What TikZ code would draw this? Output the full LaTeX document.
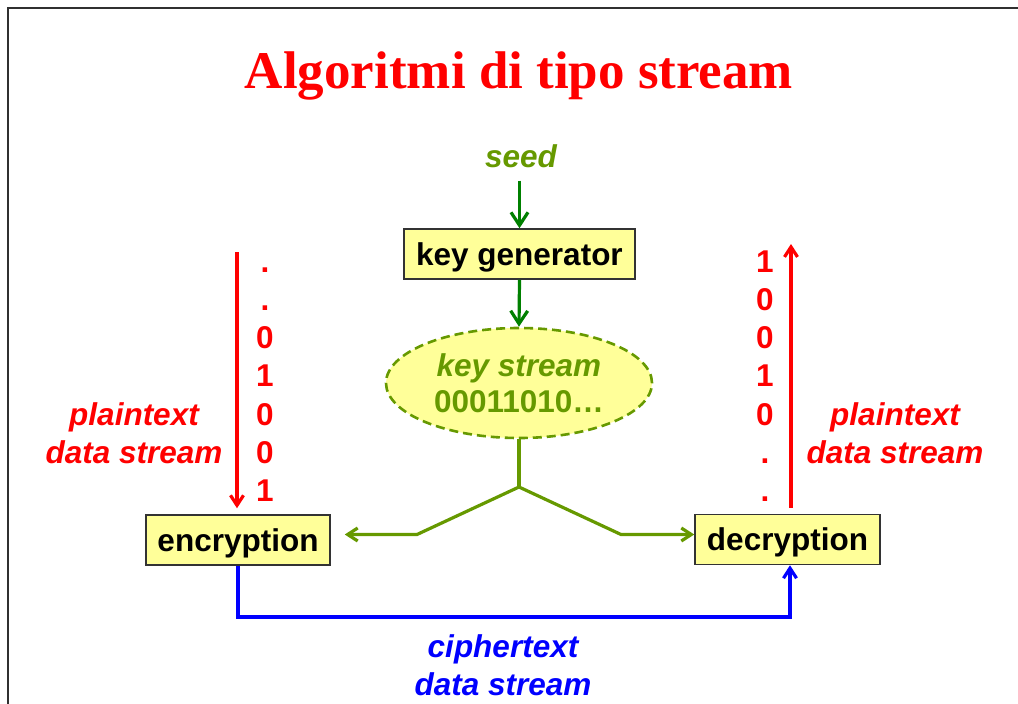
\documentclass[tikz,border=0pt]{standalone}
\usepackage{fontspec}
\setmainfont{Liberation Sans}
\newfontfamily\headfont{Liberation Serif}
\usetikzlibrary{arrows.meta,shapes.geometric}

\definecolor{streamred}{HTML}{FF0000}
\definecolor{keyolive}{HTML}{669900}
\definecolor{seedgreen}{HTML}{008000}
\definecolor{cipherblue}{HTML}{0000FF}
\definecolor{boxfill}{HTML}{FFFF99}
\definecolor{boxedge}{HTML}{333333}
\definecolor{framegray}{HTML}{303030}

\tikzset{
  lbl/.style={font=\bfseries\fontsize{31.5}{38.3}\selectfont, inner sep=0pt},
  ilbl/.style={font=\bfseries\itshape\fontsize{31.5}{38.3}\selectfont, inner sep=0pt, align=center},
  blockbox/.style={draw=boxedge, line width=1.5pt, fill=boxfill, inner sep=0pt,
    minimum height=50pt, text height=28pt, text depth=6pt,
    font=\bfseries\fontsize{31.5}{38}\selectfont},
  bit/.style={lbl, text=streamred, anchor=base},
  bigtip/.style={-{Straight Barb[length=13pt,width=17pt]}},
  smalltip/.style={-{Straight Barb[length=10pt,width=13pt]}},
  seedline/.style={draw=seedgreen, line width=3.2pt, bigtip},
  keyline/.style={draw=keyolive, line width=3.2pt, line join=miter},
  plainline/.style={draw=streamred, line width=3.2pt, smalltip},
  cipherline/.style={draw=cipherblue, line width=3.2pt, smalltip}
}

\begin{document}
\begin{tikzpicture}[x=1pt,y=-1pt]
  \useasboundingbox (0,0) rectangle (1018,704);

  % page frame
  \draw[framegray, line width=2pt] (8,704) -- (8,8) -- (1018,8);

  % heading
  \node[anchor=base, inner sep=0pt, text=streamred,
        font=\headfont\bfseries\fontsize{53}{60}\selectfont] (title) at (519,88)
        {Algoritmi di tipo stream};

  % key generation
  \node[ilbl, text=keyolive, anchor=base] (seed) at (521,167) {seed};
  \node[blockbox, minimum width=231pt] (keygen) at (519.5,254) {key generator};
  \node[ellipse, draw=keyolive, line width=2.6pt, dash pattern=on 9pt off 5pt,
        fill=boxfill, minimum width=266pt, minimum height=110pt, inner sep=0pt,
        text=keyolive, align=center,
        font=\bfseries\fontsize{31.5}{36}\selectfont] (kstream) at (519,383)
        {{\itshape key stream}\\00011010…};

  % encryption and decryption blocks
  \node[blockbox, minimum width=184pt] (enc) at (238,540) {encryption};
  \node[blockbox, minimum width=185pt] (dec) at (787.5,539.5) {decryption};

  % plaintext bit columns
  \foreach \d [count=\i from 0] in {.,.,0,1,0,0,1}
    \node[bit] (l\i) at (265,272+38.3*\i) {\d};
  \foreach \d [count=\i from 0] in {1,0,0,1,0,.,.}
    \node[bit] (r\i) at (765,272+38.3*\i) {\d};

  % stream labels
  \node[ilbl, text=streamred] (ptleft) at (134,433) {plaintext\\data stream};
  \node[ilbl, text=streamred] (ptright) at (895,433) {plaintext\\data stream};
  \node[ilbl, text=cipherblue] (ctext) at (503,665) {ciphertext\\data stream};

  % helper points
  \coordinate (branch) at (519,487);
  \coordinate (lbend) at (417,534.5);
  \coordinate (rbend) at (621,534.5);
  \coordinate (ptin) at (237,252);
  \coordinate (ptout) at (791,244);
  \coordinate (cbase) at (790,617);

  % seed -> key generator -> key stream
  \draw[seedline, shorten <=13pt] (keygen.north |- seed.south) -- (keygen.north);
  \draw[seedline] (keygen.south) -- (kstream.north);

  % key stream fed to both sides
  \draw[keyline] (kstream.south) -- (branch);
  \draw[keyline, smalltip, shorten >=14pt] (branch) -- (lbend) -- (enc.east |- lbend);
  \draw[keyline, smalltip] (branch) -- (rbend) -- (dec.west |- rbend);

  % plaintext in and out
  \draw[plainline, shorten >=6pt] (ptin) -- (enc.north -| ptin);
  \draw[plainline, shorten <=6pt] (dec.north -| ptout) -- (ptout);

  % ciphertext path
  \draw[cipherline, line join=miter] (enc.south) |- (cbase) -- (dec.south -| cbase);
\end{tikzpicture}
\end{document}
